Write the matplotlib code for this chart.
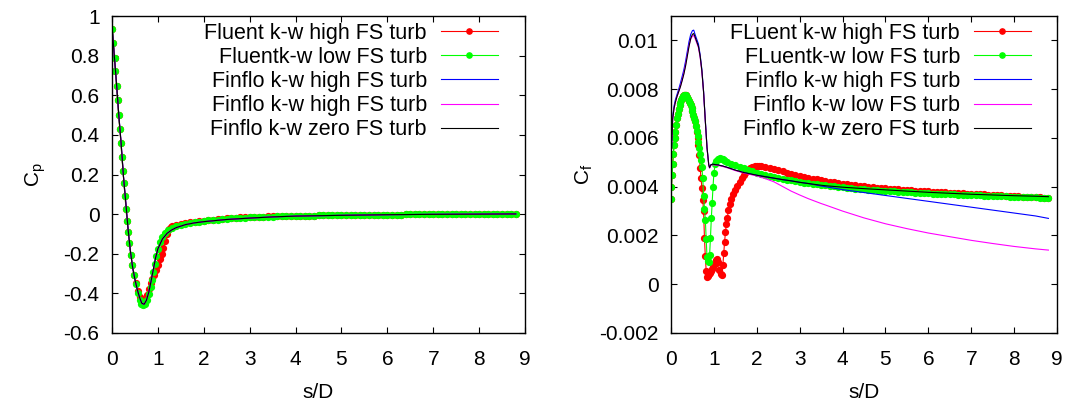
import matplotlib
matplotlib.use("Agg")
import matplotlib.pyplot as plt
from matplotlib.ticker import FuncFormatter

plt.rcParams['font.family'] = ['Liberation Sans', 'DejaVu Sans']

# ---------------- shared tail grid (s/D) ----------------
s_tail = [1.3, 1.4, 1.5, 1.6, 1.7, 1.8, 1.9, 2.0,
          2.1, 2.2, 2.3, 2.4, 2.5, 2.6, 2.7, 2.8, 2.9, 3.0,
          3.1, 3.2, 3.3, 3.4, 3.5, 3.6, 3.7, 3.8, 3.9, 4.0,
          4.1, 4.2, 4.3, 4.4, 4.5, 4.6, 4.7, 4.8, 4.9, 5.0,
          5.1, 5.2, 5.3, 5.4, 5.5, 5.6, 5.7, 5.8, 5.9, 6.0,
          6.1, 6.2, 6.3, 6.4, 6.5, 6.6, 6.7, 6.8, 6.9, 7.0,
          7.1, 7.2, 7.3, 7.4, 7.5, 7.6, 7.7, 7.8, 7.9, 8.0,
          8.1, 8.2, 8.3, 8.4, 8.5, 8.6, 8.7, 8.8]

# ---------------- Cp data ----------------
cp_green_s_head = [0.01, 0.03, 0.055, 0.075, 0.10, 0.12, 0.145, 0.17, 0.195, 0.215,
                   0.24, 0.26, 0.285, 0.305, 0.33, 0.355, 0.38, 0.41, 0.445, 0.48,
                   0.52, 0.56, 0.60, 0.64, 0.68, 0.72, 0.76, 0.80, 0.84, 0.87,
                   0.90, 0.93, 0.96, 1.00, 1.05, 1.10, 1.16, 1.22]
cp_green_head = [0.935, 0.865, 0.79, 0.72, 0.645, 0.575, 0.50, 0.43, 0.36, 0.29,
                 0.22, 0.155, 0.09, 0.025, -0.035, -0.09, -0.145, -0.205, -0.255, -0.305,
                 -0.355, -0.40, -0.435, -0.455, -0.46, -0.455, -0.435, -0.405, -0.37, -0.33,
                 -0.29, -0.25, -0.21, -0.175, -0.14, -0.115, -0.095, -0.08]
cp_green_tail = [-0.068, -0.060, -0.054, -0.049, -0.045, -0.041, -0.038, -0.035,
                 -0.032, -0.030, -0.028, -0.026, -0.024, -0.022, -0.021, -0.019, -0.018, -0.017,
                 -0.016, -0.015, -0.014, -0.013, -0.012, -0.011, -0.011, -0.010, -0.009, -0.009,
                 -0.008, -0.008, -0.007, -0.007, -0.006, -0.006, -0.006, -0.005, -0.005, -0.005,
                 -0.004, -0.004, -0.004, -0.004, -0.003, -0.003, -0.003, -0.003, -0.002, -0.002,
                 -0.002, -0.002, -0.002, -0.001, -0.001, -0.001, -0.001, -0.001, -0.001, -0.001,
                 -0.001, 0.000, 0.000, 0.000, 0.000, 0.000, 0.000, 0.000, 0.000, 0.000,
                 0.000, 0.001, 0.001, 0.001, 0.001, 0.001, 0.001, 0.001]

cp_red_s_head = [0.01, 0.03, 0.055, 0.075, 0.10, 0.12, 0.145, 0.17, 0.195, 0.215,
                 0.24, 0.26, 0.285, 0.305, 0.33, 0.355, 0.38, 0.41, 0.445, 0.48,
                 0.52, 0.56, 0.60, 0.64, 0.68, 0.72, 0.76, 0.80, 0.84, 0.88,
                 0.92, 0.96, 1.00, 1.04, 1.08, 1.12, 1.16, 1.20, 1.24, 1.28]
cp_red_head = [0.935, 0.865, 0.79, 0.72, 0.645, 0.575, 0.50, 0.43, 0.36, 0.29,
               0.22, 0.155, 0.09, 0.025, -0.035, -0.09, -0.145, -0.205, -0.255, -0.305,
               -0.35, -0.39, -0.42, -0.44, -0.445, -0.435, -0.41, -0.38, -0.35, -0.325,
               -0.305, -0.28, -0.255, -0.225, -0.20, -0.17, -0.135, -0.10, -0.075, -0.066]
cp_red_tail = [-0.062, -0.055, -0.050, -0.046, -0.042, -0.039, -0.036, -0.033,
               -0.030, -0.028, -0.026, -0.024, -0.022, -0.020, -0.019, -0.017, -0.016, -0.015,
               -0.014, -0.013, -0.012, -0.011, -0.010, -0.010, -0.009, -0.009, -0.008, -0.008,
               -0.008, -0.008, -0.007, -0.007, -0.006, -0.006, -0.006, -0.005, -0.005, -0.005,
               -0.004, -0.004, -0.004, -0.004, -0.003, -0.003, -0.003, -0.003, -0.002, -0.002,
               -0.002, -0.002, -0.002, -0.001, -0.001, -0.001, -0.001, -0.001, -0.001, -0.001,
               -0.001, 0.000, 0.000, 0.000, 0.000, 0.000, 0.000, 0.000, 0.000, 0.000,
               0.000, 0.001, 0.001, 0.001, 0.001, 0.001, 0.001, 0.001]

cp_finflo_s = [0.0, 0.05, 0.10, 0.15, 0.20, 0.25, 0.30, 0.35, 0.40, 0.45,
               0.50, 0.55, 0.60, 0.65, 0.70, 0.75, 0.80, 0.85, 0.90, 0.95,
               1.00, 1.10, 1.20, 1.30, 1.40, 1.60, 1.80, 2.00, 2.50, 3.00,
               3.50, 4.00, 5.00, 6.00, 7.00, 8.00, 8.80]
cp_finflo_high = [0.95, 0.80, 0.655, 0.495, 0.355, 0.19, 0.06, -0.075, -0.185, -0.27,
                  -0.33, -0.38, -0.42, -0.45, -0.455, -0.435, -0.395, -0.34, -0.28, -0.22,
                  -0.175, -0.125, -0.097, -0.08, -0.068, -0.053, -0.044, -0.038, -0.027, -0.020,
                  -0.014, -0.010, -0.006, -0.003, -0.001, 0.000, 0.001]
cp_finflo_low = [0.95, 0.80, 0.655, 0.495, 0.355, 0.19, 0.06, -0.075, -0.185, -0.27,
                 -0.33, -0.38, -0.42, -0.45, -0.455, -0.435, -0.395, -0.34, -0.28, -0.22,
                 -0.175, -0.125, -0.097, -0.08, -0.068, -0.053, -0.044, -0.038, -0.027, -0.020,
                 -0.014, -0.010, -0.006, -0.003, -0.001, 0.000, 0.001]
cp_finflo_zero = [0.95, 0.80, 0.655, 0.495, 0.355, 0.19, 0.06, -0.075, -0.185, -0.27,
                  -0.33, -0.38, -0.42, -0.45, -0.455, -0.435, -0.395, -0.34, -0.28, -0.22,
                  -0.175, -0.125, -0.097, -0.08, -0.068, -0.053, -0.044, -0.038, -0.027, -0.020,
                  -0.014, -0.010, -0.006, -0.003, -0.001, 0.000, 0.001]

# ---------------- Cf data ----------------
cf_green_s_head = [0.0, 0.01, 0.025, 0.04, 0.055, 0.07, 0.085, 0.10, 0.12, 0.14,
                   0.16, 0.18, 0.20, 0.22, 0.24, 0.26, 0.28, 0.30, 0.32, 0.34,
                   0.36, 0.38, 0.40, 0.42, 0.44, 0.46, 0.48, 0.50, 0.52, 0.54,
                   0.56, 0.58, 0.60, 0.62, 0.64, 0.66, 0.68, 0.70, 0.72, 0.74,
                   0.76, 0.78, 0.80, 0.82, 0.84, 0.86, 0.88, 0.90, 0.92, 0.94,
                   0.96, 0.98, 1.00, 1.03, 1.06, 1.09, 1.12, 1.15, 1.18, 1.21,
                   1.24, 1.27]
cf_green_head = [0.00350, 0.00400, 0.00450, 0.00495, 0.00535, 0.00570, 0.00600, 0.00625, 0.00655, 0.00680,
                 0.00700, 0.00718, 0.00733, 0.00745, 0.00756, 0.00764, 0.00770, 0.00774, 0.00776, 0.00776,
                 0.00773, 0.00768, 0.00761, 0.00753, 0.00744, 0.00734, 0.00723, 0.00710, 0.00696, 0.00682,
                 0.00668, 0.00650, 0.00630, 0.00608, 0.00585, 0.00560, 0.00535, 0.00510, 0.00480, 0.00435,
                 0.00360, 0.00310, 0.00265, 0.00185, 0.00110, 0.00095, 0.00092, 0.00120, 0.00190, 0.00270,
                 0.00335, 0.00400, 0.00455, 0.00495, 0.00506, 0.00512, 0.00515, 0.00516, 0.00515, 0.00513,
                 0.00510, 0.00506]
cf_green_tail = [0.00502, 0.00495, 0.00488, 0.00481, 0.00475, 0.00469, 0.00463, 0.00458,
                 0.00453, 0.00448, 0.00444, 0.00440, 0.00436, 0.00432, 0.00429, 0.00426, 0.00423, 0.00420,
                 0.00417, 0.00414, 0.00412, 0.00410, 0.00407, 0.00405, 0.00403, 0.00401, 0.00399, 0.00397,
                 0.00396, 0.00394, 0.00392, 0.00391, 0.00389, 0.00388, 0.00387, 0.00385, 0.00384, 0.00383,
                 0.00382, 0.00381, 0.00380, 0.00379, 0.00378, 0.00377, 0.00376, 0.00375, 0.00374, 0.00373,
                 0.00372, 0.00371, 0.00371, 0.00370, 0.00369, 0.00368, 0.00367, 0.00367, 0.00366, 0.00365,
                 0.00364, 0.00364, 0.00363, 0.00362, 0.00362, 0.00361, 0.00360, 0.00360, 0.00359, 0.00358,
                 0.00358, 0.00357, 0.00357, 0.00356, 0.00356, 0.00355, 0.00355, 0.00354]

cf_red_s_head = [0.0, 0.01, 0.025, 0.04, 0.055, 0.07, 0.085, 0.10, 0.12, 0.14,
                 0.16, 0.18, 0.20, 0.22, 0.24, 0.26, 0.28, 0.30, 0.32, 0.34,
                 0.36, 0.38, 0.40, 0.42, 0.44, 0.46, 0.48, 0.50, 0.52, 0.54,
                 0.56, 0.58, 0.60, 0.62, 0.64, 0.66, 0.68, 0.70, 0.72, 0.74,
                 0.76, 0.78, 0.80, 0.82, 0.84, 0.86, 0.88, 0.90, 0.93, 0.96,
                 0.99, 1.02, 1.05, 1.08, 1.10, 1.13, 1.16, 1.19, 1.21, 1.23,
                 1.25, 1.27, 1.29, 1.31, 1.34, 1.37, 1.41, 1.45, 1.50, 1.55,
                 1.60, 1.65, 1.70, 1.75, 1.80, 1.85, 1.90, 1.95, 2.00, 2.05]
cf_red_head = [0.00350, 0.00400, 0.00450, 0.00495, 0.00535, 0.00570, 0.00600, 0.00625, 0.00655, 0.00680,
               0.00700, 0.00718, 0.00733, 0.00745, 0.00756, 0.00764, 0.00770, 0.00774, 0.00776, 0.00776,
               0.00773, 0.00768, 0.00761, 0.00753, 0.00744, 0.00734, 0.00723, 0.00710, 0.00696, 0.00682,
               0.00668, 0.00650, 0.00625, 0.00600, 0.00570, 0.00530, 0.00475, 0.00435, 0.00395, 0.00345,
               0.00300, 0.00190, 0.00115, 0.00055, 0.00030, 0.00035, 0.00042, 0.00045, 0.00055, 0.00064,
               0.00070, 0.00085, 0.00100, 0.00105, 0.00090, 0.00060, 0.00042, 0.00037, 0.00080, 0.00130,
               0.00175, 0.00215, 0.00245, 0.00270, 0.00305, 0.00328, 0.00350, 0.00368, 0.00386, 0.00402,
               0.00418, 0.00436, 0.00450, 0.00460, 0.00468, 0.00475, 0.00480, 0.00483, 0.00485, 0.00485]
cf_red_tail = [0.00483, 0.00479, 0.00477, 0.00473, 0.00468, 0.00463, 0.00458, 0.00453, 0.00449, 0.00445,
               0.00441, 0.00437, 0.00433, 0.00430, 0.00427, 0.00424, 0.00421, 0.00418, 0.00415, 0.00412,
               0.00410, 0.00408, 0.00406, 0.00404, 0.00402, 0.00400, 0.00398, 0.00396, 0.00395, 0.00393,
               0.00392, 0.00390, 0.00389, 0.00388, 0.00386, 0.00385, 0.00384, 0.00383, 0.00382, 0.00381,
               0.00380, 0.00379, 0.00378, 0.00377, 0.00376, 0.00375, 0.00374, 0.00373, 0.00372, 0.00371,
               0.00370, 0.00369, 0.00368, 0.00367, 0.00366, 0.00365, 0.00364, 0.00363, 0.00362, 0.00361,
               0.00360, 0.00359, 0.00358, 0.00357, 0.00357, 0.00356, 0.00355, 0.00355]

cf_finflo_s = [0.0, 0.02, 0.04, 0.07, 0.10, 0.14, 0.18, 0.22, 0.26, 0.30,
               0.34, 0.38, 0.42, 0.46, 0.50, 0.53, 0.56, 0.60, 0.64, 0.68,
               0.72, 0.76, 0.80, 0.84, 0.88, 0.90, 0.93, 0.97, 1.02, 1.10,
               1.20, 1.30, 1.50, 1.70, 2.00, 2.20, 2.40, 2.60, 2.80, 3.00,
               3.20, 3.50, 3.60, 4.00, 4.50, 5.00, 5.50, 6.00, 6.50, 7.00,
               7.50, 8.00, 8.50, 8.80]
cf_finflo_high = [0.00500, 0.00600, 0.00690, 0.00730, 0.00755, 0.00778, 0.00800, 0.00825, 0.00852, 0.00880,
                  0.00915, 0.00955, 0.00995, 0.01025, 0.01040, 0.01042, 0.01025, 0.01005, 0.00985, 0.00940,
                  0.00880, 0.00790, 0.00672, 0.00560, 0.00490, 0.00478, 0.00490, 0.00492, 0.00491, 0.00489,
                  0.00485, 0.00480, 0.00468, 0.00458, 0.00447, 0.00441, 0.00435, 0.00429, 0.00424, 0.00418,
                  0.00413, 0.00403, 0.00400, 0.00388, 0.00376, 0.00364, 0.00352, 0.00340, 0.00328, 0.00316,
                  0.00304, 0.00292, 0.00280, 0.00270]
cf_finflo_low = [0.00500, 0.00600, 0.00680, 0.00720, 0.00745, 0.00770, 0.00790, 0.00812, 0.00838, 0.00866,
                 0.00900, 0.00940, 0.00980, 0.01005, 0.01018, 0.01020, 0.01008, 0.00990, 0.00970, 0.00930,
                 0.00870, 0.00785, 0.00668, 0.00558, 0.00488, 0.00476, 0.00488, 0.00490, 0.00489, 0.00487,
                 0.00483, 0.00478, 0.00466, 0.00456, 0.00444, 0.00433, 0.00420, 0.00401, 0.00382, 0.00366,
                 0.00351, 0.00331, 0.00325, 0.00300, 0.00272, 0.00248, 0.00228, 0.00210, 0.00195, 0.00180,
                 0.00167, 0.00155, 0.00145, 0.00140]
cf_finflo_zero = [0.00500, 0.00600, 0.00680, 0.00720, 0.00745, 0.00770, 0.00790, 0.00810, 0.00835, 0.00862,
                  0.00895, 0.00935, 0.00975, 0.01008, 0.01025, 0.01028, 0.01015, 0.00995, 0.00975, 0.00935,
                  0.00875, 0.00788, 0.00670, 0.00560, 0.00490, 0.00478, 0.00490, 0.00492, 0.00491, 0.00489,
                  0.00485, 0.00480, 0.00468, 0.00458, 0.00447, 0.00441, 0.00435, 0.00429, 0.00424, 0.00418,
                  0.00413, 0.00406, 0.00404, 0.00398, 0.00392, 0.00387, 0.00382, 0.00377, 0.00373, 0.00369,
                  0.00366, 0.00363, 0.00361, 0.00359]

cp_labels = ["Fluent k-w high FS turb", "Fluentk-w low FS turb", "Finflo k-w high FS turb",
             "Finflo k-w high FS turb", "Finflo k-w zero FS turb"]
cf_labels = ["FLuent k-w high FS turb", "FLuentk-w low FS turb", "Finflo k-w high FS turb",
             "Finflo k-w low FS turb", "Finflo k-w zero FS turb"]

x_ticks = [0, 1, 2, 3, 4, 5, 6, 7, 8, 9]
cp_ticks = [-0.6, -0.4, -0.2, 0, 0.2, 0.4, 0.6, 0.8, 1]
cf_ticks = [-0.002, 0, 0.002, 0.004, 0.006, 0.008, 0.01]

# ---------------- figure ----------------
W, H = 1076, 403
fig = plt.figure(figsize=(W / 100, H / 100), dpi=100)
ax1 = fig.add_axes([112 / W, (H - 333) / H, (525 - 112) / W, (333 - 16) / H])
ax2 = fig.add_axes([671 / W, (H - 333) / H, (1057 - 671) / W, (333 - 16) / H])

RED, GREEN, BLUE, MAG, BLK = '#ff0000', '#00ff00', '#0000ff', '#ff00ff', '#000000'
FS = 15
LFS = 15.5
lw = 0.8
ms = 4.2


def style(ax, ylim, yticks, ylab, labx):
    ax.set_xlim(0, 9)
    ax.set_ylim(*ylim)
    ax.set_xticks(x_ticks)
    ax.set_yticks(yticks)
    ax.yaxis.set_major_formatter(FuncFormatter(lambda v, p: '%g' % round(v, 6)))
    ax.tick_params(direction='in', length=4, width=0.8, top=True, right=True,
                   labelsize=FS, colors='black')
    ax.tick_params(axis='x', pad=12)
    ax.tick_params(axis='y', pad=9)
    for sp in ax.spines.values():
        sp.set_linewidth(1.0)
    ax.set_xlabel('s/D', fontsize=FS)
    ax.xaxis.set_label_coords(0.5, -0.157)
    ax.set_ylabel(ylab, fontsize=FS)
    ax.yaxis.set_label_coords(labx, 0.5)


# Cp
ax1.plot(cp_red_s_head + s_tail, cp_red_head + cp_red_tail, '-o', color=RED, lw=lw, ms=ms,
         mec=RED, label=cp_labels[0])
ax1.plot(cp_green_s_head + s_tail, cp_green_head + cp_green_tail, '-o', color=GREEN, lw=lw, ms=ms,
         mec=GREEN, label=cp_labels[1])
ax1.plot(cp_finflo_s, cp_finflo_high, '-', color=BLUE, lw=lw, label=cp_labels[2])
ax1.plot(cp_finflo_s, cp_finflo_low, '-', color=MAG, lw=lw, label=cp_labels[3])
ax1.plot(cp_finflo_s, cp_finflo_zero, '-', color=BLK, lw=lw, label=cp_labels[4])
style(ax1, (-0.6, 1.0), cp_ticks, r'$\mathregular{C_p}$', -0.155)

# Cf
ax2.plot(cf_red_s_head + s_tail[8:], cf_red_head + cf_red_tail, '-o', color=RED, lw=lw, ms=ms,
         mec=RED, label=cf_labels[0])
ax2.plot(cf_green_s_head + s_tail, cf_green_head + cf_green_tail, '-o', color=GREEN, lw=lw, ms=ms,
         mec=GREEN, label=cf_labels[1])
ax2.plot(cf_finflo_s, cf_finflo_high, '-', color=BLUE, lw=lw, label=cf_labels[2])
ax2.plot(cf_finflo_s, cf_finflo_low, '-', color=MAG, lw=lw, label=cf_labels[3])
ax2.plot(cf_finflo_s, cf_finflo_zero, '-', color=BLK, lw=lw, label=cf_labels[4])
style(ax2, (-0.002, 0.011), cf_ticks, r'$\mathregular{C_f}$', -0.197)

for ax, ax_l, ax_r, hand_r in ((ax1, 112, 525, 498), (ax2, 671, 1057, 1031)):
    leg = ax.legend(loc='upper right', bbox_to_anchor=((hand_r - ax_l) / (ax_r - ax_l), (333 - 23) / 317),
                    markerfirst=False, frameon=False, fontsize=LFS, numpoints=1,
                    handlelength=2.65, handletextpad=0.65, labelspacing=0.14,
                    borderpad=0, borderaxespad=0, markerscale=0.9)

fig.savefig('out.png', dpi=100)
